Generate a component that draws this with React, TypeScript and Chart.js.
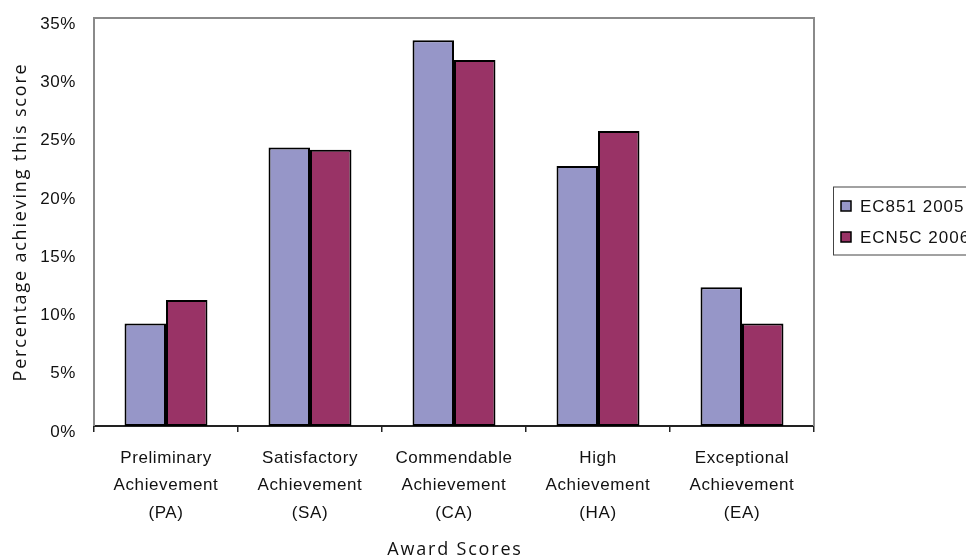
import React, { useEffect, useRef } from 'react';
import { Chart, registerables } from 'chart.js';

Chart.register(...registerables);

// Award score categories (multi-line axis labels)
const categories: string[][] = [
  ['Preliminary', 'Achievement', '(PA)'],
  ['Satisfactory', 'Achievement', '(SA)'],
  ['Commendable', 'Achievement', '(CA)'],
  ['High', 'Achievement', '(HA)'],
  ['Exceptional', 'Achievement', '(EA)'],
];

const seriesNames = ['EC851 2005', 'ECN5C 2006'];
const ec851_2005 = [8.8, 23.9, 33.1, 22.3, 11.9];
const ecn5c_2006 = [10.8, 23.7, 31.4, 25.3, 8.8];
const seriesColors = ['#9696C8', '#993366'];

const yTicks = [0, 5, 10, 15, 20, 25, 30, 35];
const yTitle = 'Percentage achieving this score';
const xTitle = 'Award Scores';

const tickFamily = "'Liberation Sans', Arial, sans-serif";
const titleFamily = "'Open Sans', 'Noto Sans', sans-serif";

// Frame, axis titles and boxed legend drawn onto the chart canvas
const decorations = {
  id: 'decorations',
  beforeDraw(chart: any) {
    chart.ctx.letterSpacing = '0.6px';
  },
  beforeDatasetsDraw(chart: any) {
    const { ctx, chartArea: a } = chart;
    ctx.save();
    ctx.strokeStyle = '#8a8a8a';
    ctx.lineWidth = 2;
    ctx.beginPath();
    ctx.moveTo(a.left, a.bottom);
    ctx.lineTo(a.left, a.top);
    ctx.lineTo(a.right, a.top);
    ctx.lineTo(a.right, a.bottom);
    ctx.stroke();
    ctx.restore();
  },
  afterDraw(chart: any) {
    const { ctx, chartArea: a } = chart;
    ctx.save();
    ctx.fillStyle = '#111';
    ctx.font = `18px ${titleFamily}`;
    ctx.letterSpacing = '1.8px';

    // x axis title
    ctx.textAlign = 'center';
    ctx.textBaseline = 'alphabetic';
    ctx.fillText(xTitle, (a.left + a.right) / 2 + 1, 555);

    // y axis title
    ctx.save();
    ctx.translate(26, (a.top + a.bottom) / 2);
    ctx.rotate(-Math.PI / 2);
    ctx.fillText(yTitle, 0, 0);
    ctx.restore();

    // legend box
    const datasets = chart.data.datasets;
    const boxLeft = 833.5;
    const boxTop = 187;
    const rowH = 31;
    ctx.strokeStyle = '#444';
    ctx.lineWidth = 1;
    ctx.strokeRect(boxLeft, boxTop, 200, 68);
    ctx.font = `17px ${tickFamily}`;
    ctx.letterSpacing = '1px';
    ctx.textAlign = 'left';
    ctx.textBaseline = 'middle';
    datasets.forEach((ds: any, i: number) => {
      const cy = boxTop + 19 + i * rowH;
      ctx.fillStyle = ds.backgroundColor;
      ctx.fillRect(841, cy - 5, 10, 10);
      ctx.strokeStyle = '#000';
      ctx.lineWidth = 1.5;
      ctx.strokeRect(841, cy - 5, 10, 10);
      ctx.fillStyle = '#111';
      ctx.fillText(ds.label, 860, cy + 1);
    });
    ctx.restore();
  },
};

export default function App() {
  const canvasRef = useRef<HTMLCanvasElement | null>(null);

  useEffect(() => {
    const canvas = canvasRef.current;
    if (!canvas) return;
    const chart = new Chart(canvas, {
      type: 'bar',
      data: {
        labels: categories,
        datasets: [
          {
            label: seriesNames[0],
            data: ec851_2005,
            backgroundColor: seriesColors[0],
            borderColor: '#000',
            borderWidth: 2,
            borderSkipped: false,
          },
          {
            label: seriesNames[1],
            data: ecn5c_2006,
            backgroundColor: seriesColors[1],
            borderColor: '#000',
            borderWidth: 2,
            borderSkipped: false,
          },
        ],
      },
      options: {
        responsive: false,
        animation: false,
        devicePixelRatio: 1,
        layout: { padding: { top: 18, right: 152, left: 0, bottom: 0 } },
        datasets: {
          bar: { categoryPercentage: 0.576, barPercentage: 1 },
        },
        plugins: {
          legend: { display: false },
          tooltip: { enabled: false },
          title: { display: false },
        },
        scales: {
          x: {
            offset: true,
            grid: {
              display: true,
              offset: true,
              drawOnChartArea: false,
              drawTicks: true,
              tickLength: 6,
              color: '#222',
              lineWidth: 1.5,
            },
            border: { display: true, color: '#222', width: 2 },
            ticks: {
              color: '#111',
              padding: 13,
              maxRotation: 0,
              autoSkip: false,
              font: { family: tickFamily, size: 17, lineHeight: 1.6 },
            },
            afterFit: (axis: any) => {
              axis.height = 130;
              axis.paddingLeft = 0;
              axis.paddingRight = 0;
            },
          },
          y: {
            min: 0,
            max: 35,
            grid: { display: false, drawTicks: false },
            border: { display: false },
            ticks: {
              color: '#111',
              padding: 18,
              labelOffset: 6,
              font: { family: tickFamily, size: 17 },
              callback: (v: any) => `${v}%`,
            },
            afterBuildTicks: (axis: any) => {
              axis.ticks = yTicks.map((v) => ({ value: v }));
            },
            afterFit: (axis: any) => {
              axis.width = 94;
              axis.paddingTop = 0;
              axis.paddingBottom = 0;
            },
          },
        },
      },
      plugins: [decorations],
    });
    return () => chart.destroy();
  }, []);

  return (
    <div style={{ position: 'absolute', left: 0, top: 0, width: 966, height: 556, background: '#fff' }}>
      <canvas ref={canvasRef} width={966} height={556} style={{ display: 'block' }} />
    </div>
  );
}
